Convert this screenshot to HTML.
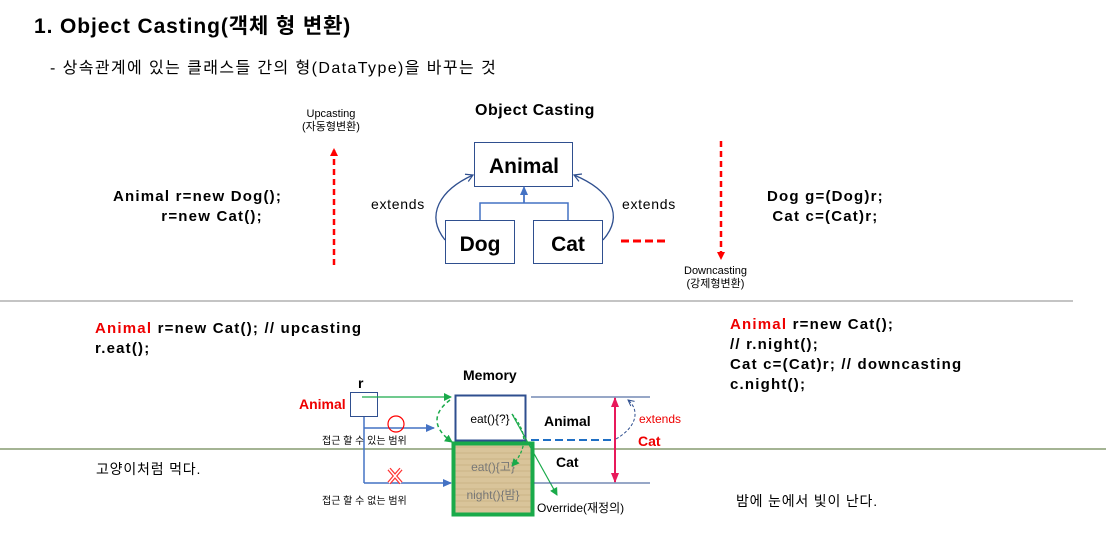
<!DOCTYPE html>
<html><head><meta charset="utf-8"><style>
body{margin:0;width:1106px;height:553px;background:#fff;position:relative;overflow:hidden;font-family:"Liberation Sans","Noto Sans CJK KR",sans-serif;}
.t{position:absolute;white-space:nowrap;color:#000}
.b{font-weight:bold}
.c{letter-spacing:1.2px}
</style></head><body>
<div class="t b" style="left:34px;top:10px;font-size:21px;letter-spacing:0.9px">1. Object Casting(객체 형 변환)</div>
<div class="t" style="left:50px;top:54px;font-size:16px;letter-spacing:1.4px">- 상속관계에 있는 클래스들 간의 형(DataType)을 바꾸는 것</div>
<div class="t b" style="left:475px;top:102px;font-size:16px;letter-spacing:0.5px">Object Casting</div>
<div class="t" style="left:302px;top:108px;font-size:11px;text-align:center;line-height:13px">Upcasting<br>(자동형변환)</div>
<div class="t" style="left:684px;top:265px;font-size:11px;text-align:center;line-height:13px">Downcasting<br>(강제형변환)</div>
<div class="t b c" style="left:113px;top:187px;font-size:15px;line-height:20px">Animal r=new Dog();<br>&nbsp;&nbsp;&nbsp;&nbsp;&nbsp;&nbsp;&nbsp;&nbsp;&nbsp;r=new Cat();</div>
<div class="t b c" style="left:767px;top:187px;font-size:15px;line-height:20px;text-align:center">Dog g=(Dog)r;<br>Cat c=(Cat)r;</div>
<div class="t" style="left:371px;top:196px;font-size:14px;letter-spacing:0.7px">extends</div>
<div class="t" style="left:622px;top:196px;font-size:14px;letter-spacing:0.7px">extends</div>
<div class="t b c" style="left:95px;top:319px;font-size:15px;line-height:20px"><span style="color:#e00">Animal</span> r=new Cat(); // upcasting<br>r.eat();</div>
<div class="t b c" style="left:730px;top:315px;font-size:15px;line-height:20px"><span style="color:#e00">Animal</span> r=new Cat();<br>// r.night();<br>Cat c=(Cat)r; // downcasting<br>c.night();</div>
<div class="t b" style="left:463px;top:367px;font-size:14px">Memory</div>
<div class="t b" style="left:358px;top:375px;font-size:14px">r</div>
<div class="t b" style="left:299px;top:396px;font-size:14px;color:#e00">Animal</div>
<div class="t" style="left:322px;top:432px;font-size:10px">접근 할 수 있는 범위</div>
<div class="t" style="left:322px;top:492px;font-size:10px">접근 할 수 없는 범위</div>
<div class="t" style="left:96px;top:459px;font-size:14px;letter-spacing:0.8px">고양이처럼 먹다.</div>
<div class="t" style="left:736px;top:491px;font-size:14px;letter-spacing:0.8px">밤에 눈에서 빛이 난다.</div>
<svg width="1106" height="553" style="position:absolute;left:0;top:0">
<defs>
<marker id="ob" markerUnits="userSpaceOnUse" markerWidth="10" markerHeight="10" refX="8" refY="5" orient="auto"><path d="M1,1 L8,5 L1,9" fill="none" stroke="#2f4f8f" stroke-width="1.2"/></marker>
<marker id="bt" markerUnits="userSpaceOnUse" markerWidth="9" markerHeight="8" refX="8" refY="4" orient="auto"><path d="M0,0 L9,4 L0,8z" fill="#4472c4"/></marker>
<marker id="rt" markerUnits="userSpaceOnUse" markerWidth="8" markerHeight="8" refX="6" refY="4" orient="auto"><path d="M0,0 L8,4 L0,8z" fill="#f00"/></marker>
<marker id="gt" markerUnits="userSpaceOnUse" markerWidth="8" markerHeight="8" refX="7" refY="4" orient="auto"><path d="M0,0 L8,4 L0,8z" fill="#1aaa4a"/></marker>
<marker id="pk" markerUnits="userSpaceOnUse" markerWidth="10" markerHeight="10" refX="9" refY="5" orient="auto"><path d="M0,1 L10,5 L0,9z" fill="#e8195a"/></marker>
<marker id="dt" markerUnits="userSpaceOnUse" markerWidth="8" markerHeight="8" refX="7" refY="4" orient="auto"><path d="M1,1 L7,4 L1,7" fill="none" stroke="#2f4f8f"/></marker>
<pattern id="wood" width="6" height="6" patternUnits="userSpaceOnUse"><rect width="6" height="6" fill="#d9c49a"/><path d="M0,3 h6" stroke="#cbb585" stroke-width="1"/></pattern>
</defs>
<line x1="0" y1="301" x2="1073" y2="301" stroke="#888"/>
<line x1="0" y1="449" x2="1106" y2="449" stroke="#4a6a2a"/>
<rect x="474.5" y="142.5" width="98" height="44" fill="#fff" stroke="#2f4f8f"/>
<text x="524" y="173" font-size="21" font-weight="bold" text-anchor="middle" font-family="Liberation Sans">Animal</text>
<rect x="445.5" y="220.5" width="69" height="43" fill="#fff" stroke="#2f4f8f"/>
<text x="480" y="251" font-size="21" font-weight="bold" text-anchor="middle" font-family="Liberation Sans">Dog</text>
<rect x="533.5" y="220.5" width="69" height="43" fill="#fff" stroke="#2f4f8f"/>
<text x="568" y="251" font-size="21" font-weight="bold" text-anchor="middle" font-family="Liberation Sans">Cat</text>
<path d="M480,220 V203 H568 V220 M524,203 V188" fill="none" stroke="#4472c4" stroke-width="1.5"/>
<line x1="524" y1="203" x2="524" y2="187" stroke="#4472c4" stroke-width="1.5" marker-end="url(#bt)"/>
<path d="M445,240 C425,215 440,190 473,175" fill="none" stroke="#2f4f8f" stroke-width="1.3" marker-end="url(#ob)"/>
<path d="M603,240 C625,215 610,190 574,175" fill="none" stroke="#2f4f8f" stroke-width="1.3" marker-end="url(#ob)"/>
<line x1="334" y1="265" x2="334" y2="150" stroke="#f00" stroke-width="2.5" stroke-dasharray="6,4" marker-end="url(#rt)"/>
<line x1="721" y1="141" x2="721" y2="258" stroke="#f00" stroke-width="2.5" stroke-dasharray="6,4" marker-end="url(#rt)"/>
<line x1="621" y1="241" x2="667" y2="241" stroke="#f00" stroke-width="3" stroke-dasharray="8,4"/>
<rect x="350.5" y="392.5" width="27" height="24" fill="#fff" stroke="#2f4f8f"/>
<rect x="455.5" y="395.5" width="70" height="45" fill="#fff" stroke="#2f4f8f" stroke-width="2"/>
<text x="490" y="423" font-size="12" text-anchor="middle" font-family="Liberation Sans">eat(){?}</text>
<rect x="453.5" y="443.5" width="79" height="71" fill="url(#wood)" stroke="#1aaa4a" stroke-width="4"/>
<text x="493" y="471" font-size="12" text-anchor="middle" fill="#777" font-family="Liberation Sans,Noto Sans CJK KR">eat(){고}</text>
<text x="493" y="499" font-size="12" text-anchor="middle" fill="#777" font-family="Liberation Sans,Noto Sans CJK KR">night(){밤}</text>
<path d="M364,417 V483" fill="none" stroke="#4472c4" stroke-width="1.5"/>
<line x1="364" y1="428" x2="434" y2="428" stroke="#4472c4" stroke-width="1.5" marker-end="url(#bt)"/>
<line x1="364" y1="483" x2="451" y2="483" stroke="#4472c4" stroke-width="1.5" marker-end="url(#bt)"/>
<line x1="362" y1="397" x2="451" y2="397" stroke="#1aaa4a" stroke-width="1.3" marker-end="url(#gt)"/>
<circle cx="396" cy="424" r="8" fill="none" stroke="#f00" stroke-width="1.2"/>
<path d="M389,469 l12,14 M401,469 l-12,14" stroke="#f33" stroke-width="4"/>
<path d="M389,469 l12,14 M401,469 l-12,14" stroke="#fff" stroke-width="1.5"/>
<path d="M450,400 C430,415 435,430 452,442" fill="none" stroke="#1aaa4a" stroke-width="1.5" stroke-dasharray="4,3" marker-end="url(#gt)"/>
<path d="M512,414 C525,430 530,445 512,466" fill="none" stroke="#1aaa4a" stroke-width="1.3" stroke-dasharray="3,2" marker-end="url(#gt)"/>
<line x1="512" y1="414" x2="557" y2="495" stroke="#1aaa4a" stroke-width="1.2" marker-end="url(#gt)"/>
<line x1="531" y1="397" x2="650" y2="397" stroke="#2f4f8f"/>
<line x1="534" y1="483" x2="650" y2="483" stroke="#2f4f8f"/>
<line x1="531" y1="440" x2="615" y2="440" stroke="#1f6fc4" stroke-width="2" stroke-dasharray="8,4"/>
<line x1="615" y1="440" x2="615" y2="398" stroke="#e8195a" stroke-width="2" marker-end="url(#pk)"/>
<line x1="615" y1="440" x2="615" y2="482" stroke="#e8195a" stroke-width="2" marker-end="url(#pk)"/>
<path d="M616,439 C640,425 638,408 628,400" fill="none" stroke="#2f4f8f" stroke-dasharray="3,2" marker-end="url(#dt)"/>
<text x="544" y="426" font-size="14" font-weight="bold" font-family="Liberation Sans">Animal</text>
<text x="556" y="467" font-size="14" font-weight="bold" font-family="Liberation Sans">Cat</text>
<text x="639" y="423" font-size="12" fill="#e00" font-family="Liberation Sans">extends</text>
<text x="638" y="446" font-size="14" font-weight="bold" fill="#e00" font-family="Liberation Sans">Cat</text>
<text x="537" y="512" font-size="12" font-family="Liberation Sans,Noto Sans CJK KR">Override(재정의)</text>
</svg>
</body></html>
